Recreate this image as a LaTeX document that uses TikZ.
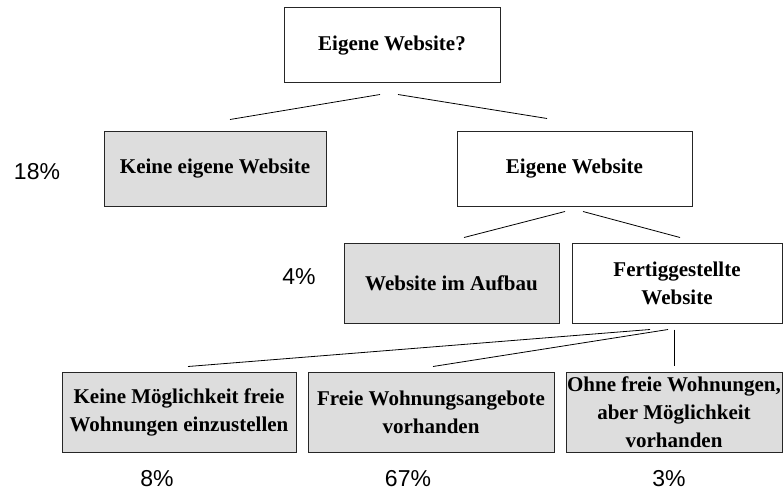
\documentclass[tikz,border=0pt]{standalone}
\usepackage{fontspec}
\setmainfont{Liberation Serif}
\newfontfamily\pctfont{Liberation Sans}
\usetikzlibrary{calc}
\definecolor{boxgrey}{HTML}{DDDDDD}
\begin{document}
\begin{tikzpicture}[x=1pt,y=-1pt,
  box/.style={draw=black!85, line width=1pt, fill=white, inner sep=0pt, align=center,
    font=\fontsize{21}{28}\selectfont\bfseries},
  greybox/.style={box, fill=boxgrey},
  pct/.style={font=\pctfont\fontsize{23}{26}\selectfont, inner sep=0pt},
  link/.style={draw=black, line width=0.8pt}]
\useasboundingbox (0,0) rectangle (783,497);
% boxes
\node[box, minimum width=216, minimum height=75] (q) at (392,45.5) {Eigene Website?};
\node[greybox, minimum width=222, minimum height=74] (no) at (215,169) {Keine eigene Website};
\node[box, minimum width=235, minimum height=74] (yes) at (574.5,169) {Eigene Website};
\node[greybox, minimum width=215, minimum height=80] (build) at (451.5,283) {Website im Aufbau};
\node[box, minimum width=210, minimum height=80] (done) at (677,283) {Fertiggestellte\\Website};
\node[greybox, minimum width=234, minimum height=80] (b1) at (179,412) {Keine Möglichkeit freie\\Wohnungen einzustellen};
\node[greybox, minimum width=246, minimum height=80] (b2) at (431,412) {Freie Wohnungsangebote\\vorhanden};
\node[greybox, minimum width=216, minimum height=80] (b3) at (674,412) {Ohne freie Wohnungen,\\aber Möglichkeit\\vorhanden};
% percentages
\node[pct] (p1) at (37,172) {18\%};
\node[pct] (p2) at (299,277) {4\%};
\node[pct] (p3) at (157,479) {8\%};
\node[pct] (p4) at (408,479) {67\%};
\node[pct] (p5) at (669,479) {3\%};
% connector end points
\coordinate (qa) at ($(q.south)+(-12,11)$);
\coordinate (qb) at ($(q.south)+(6,11)$);
\coordinate (noa) at ($(no.north)+(15,-12)$);
\coordinate (yesa) at ($(yes.north)+(-27.5,-13)$);
\coordinate (ya) at ($(yes.south)+(-9.5,5)$);
\coordinate (yb) at ($(yes.south)+(8.5,5)$);
\coordinate (builda) at ($(build.north)+(12.5,-5)$);
\coordinate (donea) at ($(done.north)+(3,-5)$);
\coordinate (da) at ($(done.south)+(-27,6)$);
\coordinate (db) at ($(done.south)+(-9,6)$);
\coordinate (dc) at ($(done.south)+(-3,6)$);
\coordinate (b1a) at ($(b1.north)+(9,-5)$);
\coordinate (b2a) at ($(b2.north)+(2,-5)$);
\coordinate (b3a) at ($(b3.north)+(0,-6)$);
% connectors
\draw[link] (qa) -- (noa);
\draw[link] (qb) -- (yesa);
\draw[link] (ya) -- (builda);
\draw[link] (yb) -- (donea);
\draw[link] (da) -- (b1a);
\draw[link] (db) -- (b2a);
\draw[link] (dc) -- (b3a);
\end{tikzpicture}
\end{document}
